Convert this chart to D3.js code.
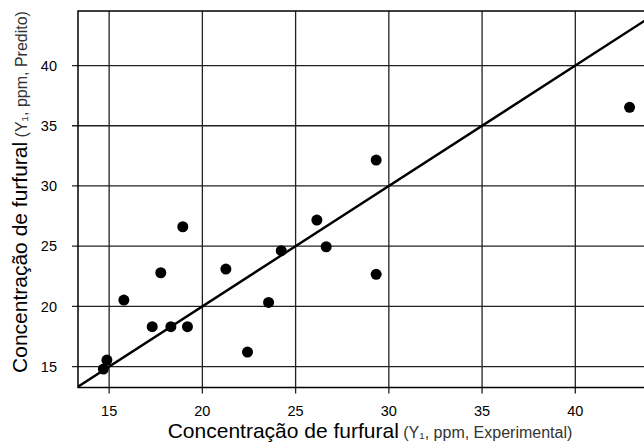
<!DOCTYPE html>
<html><head><meta charset="utf-8">
<script src="https://cdn.jsdelivr.net/npm/d3@7"></script>
<style>body{margin:0;background:#fff}svg{display:block}text{font-family:"Liberation Sans",Arial,sans-serif;fill:#000}</style>
</head><body><svg id="c" width="644" height="447"></svg>
<script>
const experimental = [14.69,14.88,15.79,17.31,17.77,18.31,18.95,19.20,21.26,22.42,23.55,24.23,26.14,26.64,29.32,29.32,42.91];
const predicted    = [14.79,15.54,20.52,18.31,22.79,18.31,26.61,18.31,23.10,16.20,20.33,24.62,27.17,24.95,32.15,22.66,36.53];
const xTicks = [15,20,25,30,35,40];
const yTicks = [15,20,25,30,35,40];
const xTitleMain = "Concentração de furfural", xTitleSub = " (Y₁, ppm, Experimental)";
const yTitleMain = "Concentração de furfural", yTitleSub = " (Y₁, ppm, Predito)";

const svg = d3.select("#c");
const L=78, R=655.5, T=11, B=387.5;
const x = d3.scaleLinear().domain([13.33,44.3]).range([L,R]);
const y = d3.scaleLinear().domain([13.26,44.53]).range([B,T]);

svg.append("clipPath").attr("id","pc").append("rect").attr("x",L).attr("y",T).attr("width",R-L).attr("height",B-T);

// grid
svg.append("g").selectAll("line").data(xTicks).join("line")
  .attr("x1",d=>x(d)).attr("x2",d=>x(d)).attr("y1",T).attr("y2",B+6)
  .attr("stroke","#222").attr("stroke-width",1.3);
svg.append("g").selectAll("line").data(yTicks).join("line")
  .attr("y1",d=>y(d)).attr("y2",d=>y(d)).attr("x1",L-6).attr("x2",R)
  .attr("stroke","#222").attr("stroke-width",1.3);

// frame
svg.append("rect").attr("x",L).attr("y",T).attr("width",R-L).attr("height",B-T)
  .attr("fill","none").attr("stroke","#000").attr("stroke-width",1.5);

// tick labels
svg.append("g").selectAll("text").data(xTicks).join("text")
  .attr("x",d=>x(d)).attr("y",416).attr("text-anchor","middle").attr("font-size",14.5).text(d=>d);
svg.append("g").selectAll("text").data(yTicks).join("text")
  .attr("x",L-21).attr("y",d=>y(d)+5.3).attr("text-anchor","end").attr("font-size",14.5).text(d=>d);

// diagonal
const lo = Math.max(x.domain()[0], y.domain()[0]), hi = Math.min(x.domain()[1], y.domain()[1]);
svg.append("line").attr("clip-path","url(#pc)")
  .attr("x1",x(lo)).attr("y1",y(lo)).attr("x2",x(hi)).attr("y2",y(hi))
  .attr("stroke","#000").attr("stroke-width",2.4);

// points
svg.append("g").selectAll("circle").data(experimental.map((e,i)=>[e,predicted[i]])).join("circle")
  .attr("cx",d=>x(d[0])).attr("cy",d=>y(d[1])).attr("r",5.5).attr("fill","#000");

// titles
const xt = svg.append("text").attr("x",370).attr("y",438).attr("text-anchor","middle");
xt.append("tspan").attr("font-size",21).text(xTitleMain);
xt.append("tspan").attr("font-size",16).attr("fill","#333").text(xTitleSub);
const yt = svg.append("text").attr("transform","translate(27,192) rotate(-90)").attr("text-anchor","middle");
yt.append("tspan").attr("font-size",21).text(yTitleMain);
yt.append("tspan").attr("font-size",16).attr("fill","#333").text(yTitleSub);
</script></body></html>
